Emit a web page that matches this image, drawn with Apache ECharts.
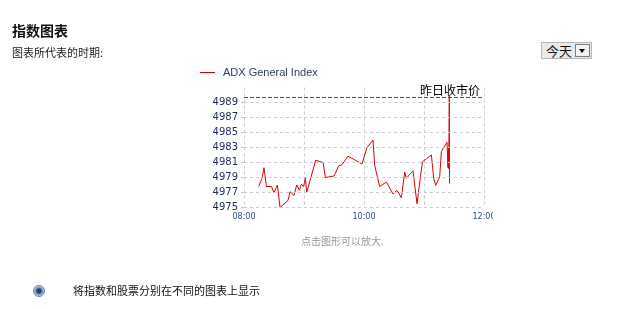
<!DOCTYPE html>
<html><head><meta charset="utf-8">
<script src="https://cdn.jsdelivr.net/npm/echarts@6/dist/echarts.min.js"></script>
<style>
html,body{margin:0;padding:0;background:#fff;width:627px;height:309px;overflow:hidden;font-family:"Noto Sans CJK SC","Liberation Sans",sans-serif;}
.t{position:absolute;white-space:nowrap;line-height:1;}
#chart{position:absolute;left:0;top:0;width:493px;height:309px;}
</style></head><body>
<div id="chart"></div>
<div class="t" style="left:12px;top:23px;font-size:14px;font-weight:bold;color:#111;">指数图表</div>
<div class="t" style="left:12px;top:47px;font-size:11px;color:#222;">图表所代表的时期:</div>
<div style="position:absolute;left:541px;top:42px;width:49px;height:15px;background:#e9e9e9;border:1px solid #b8b8b8;">
  <div class="t" style="left:4px;top:1px;font-size:13px;color:#111;">今天</div>
  <div style="position:absolute;right:1px;top:1px;width:13px;height:11px;background:#f2f2f2;border:1px solid #7d7d7d;">
    <div style="position:absolute;left:3px;top:4px;width:0;height:0;border-left:3.5px solid transparent;border-right:3.5px solid transparent;border-top:4px solid #000;"></div>
  </div>
</div>
<div class="t" style="left:301px;top:236px;font-size:10px;color:#999;">点击图形可以放大.</div>
<div style="position:absolute;left:33px;top:285px;width:10px;height:10px;border-radius:50%;border:1px solid #6f8195;background:radial-gradient(circle,#1d3557 0,#2a4d7a 30%,#8fb2d6 55%,#dfe9f3 100%);"></div>
<div class="t" style="left:73px;top:285px;font-size:11px;color:#111;">将指数和股票分别在不同的图表上显示</div>
<script>
// ---- data ----
const seriesName = 'ADX General Index';
const times = ['08:14:40','08:18:00','08:20:00','08:22:24','08:27:24','08:30:00','08:33:24','08:36:00','08:44:00','08:46:00',
  '08:50:00','08:52:42','08:55:24','08:57:24','08:59:30','09:01:24','09:02:42','09:11:42','09:19:00','09:21:24',
  '09:30:00','09:34:42','09:38:00','09:44:00','09:58:00','10:00:00','10:03:00','10:09:00','10:10:42','10:15:42',
  '10:22:24','10:29:00','10:33:00','10:37:24','10:40:42','10:42:24','10:49:00','10:53:00','10:58:24','11:02:24',
  '11:04:00','11:07:24','11:09:42','11:11:42','11:15:42','11:17:24','11:23:00','11:24:00','11:24:18','11:24:36',
  '11:25:00','11:25:18','11:25:30'];
const values = [4977.8,4978.9,4980.3,4977.8,4977.8,4977.0,4978.0,4975.0,4975.95,4977.1,
  4976.6,4978.0,4977.3,4978.1,4977.8,4978.9,4977.0,4981.3,4981.0,4979.0,
  4979.2,4980.55,4980.7,4981.85,4980.8,4981.7,4983.0,4984.0,4980.6,4977.8,
  4978.4,4976.8,4977.3,4976.3,4979.7,4978.9,4979.9,4975.5,4981.1,4981.5,
  4981.3,4982.0,4978.9,4977.95,4979.1,4982.5,4983.7,4980.3,4983.0,4980.2,
  4984.5,4989.9,4978.2];
const prevClose = 4989.67;
const prevCloseLabel = '昨日收市价';
const sessionStart = '08:00', sessionEnd = '12:00';
const yTicks = [4975,4977,4979,4981,4983,4985,4987,4989];
const xTickLabels = ['08:00','09:00','10:00','11:00','12:00'];
const xLabelShown = ['08:00','10:00','12:00'];

function toMin(t){const p=t.split(':').map(Number);return (p[0]-8)*60+p[1]+(p[2]||0)/60;}
const data = times.map((t,i)=>[toMin(t), values[i]]);
const closeData = [[toMin(sessionStart), prevClose],[toMin(sessionEnd), prevClose]];

const chart = echarts.init(document.getElementById('chart'));
const gridStyle = {color:'#cccccc', width:1, type:[3,3]};
chart.setOption({
  animation:false,
  legend:{left:195, top:62, itemWidth:15, itemHeight:10, icon:'path://M0,4.5L15,4.5L15,5.5L0,5.5Z',
    data:[{name:seriesName, itemStyle:{color:'#cc0000'}}],
    textStyle:{fontFamily:'Liberation Sans', fontSize:11, color:'#33415c', padding:[0,0,0,3]}},
  grid:{left:244, top:87.5, width:240, height:120, containLabel:false, outerBoundsMode:'none'},
  xAxis:{type:'value', min:0, max:240, interval:60,
    axisLine:{show:false}, axisTick:{show:false},
    splitLine:{show:true, lineStyle:gridStyle},
    axisLabel:{margin:5, fontFamily:'DejaVu Sans', fontSize:8, color:'#2c4a8a',
      formatter:v=>{const s=xTickLabels[Math.round(v/60)];return xLabelShown.indexOf(s)>=0?s:'';}}},
  yAxis:{type:'value', min:4975, max:4991, interval:2,
    axisLine:{show:false},
    axisTick:{show:true, length:3, lineStyle:{color:'#c9c9c9'}, customValues:yTicks},
    splitLine:{show:false},
    axisLabel:{margin:6, fontFamily:'DejaVu Sans', fontSize:10, color:'#1d2b5e', padding:[0,0,5,0], customValues:yTicks,
      formatter:v=>(yTicks.indexOf(v)>=0?String(v):'')}},
  series:[{
    name:'grid', type:'line', data:[], silent:true,
    markLine:{silent:true, symbol:'none', animation:false,
      data: yTicks.map(v=>({yAxis:v, lineStyle:gridStyle, label:{show:false}}))}
  },{
    name:prevCloseLabel, type:'line', data:closeData, symbol:'none', silent:true, z:3,
    lineStyle:{color:'#ff0000', width:1, type:[4,2]},
    endLabel:{show:true, formatter:prevCloseLabel, align:'right', verticalAlign:'bottom', offset:[-12,-1],
      fontFamily:'Noto Sans CJK SC', fontSize:12, color:'#000'}
  },{
    name:seriesName, type:'line', data:data, symbol:'none', z:4,
    lineStyle:{color:'#dd0000', width:1}, itemStyle:{color:'#dd0000'}
  }]
});
</script>
</body></html>
